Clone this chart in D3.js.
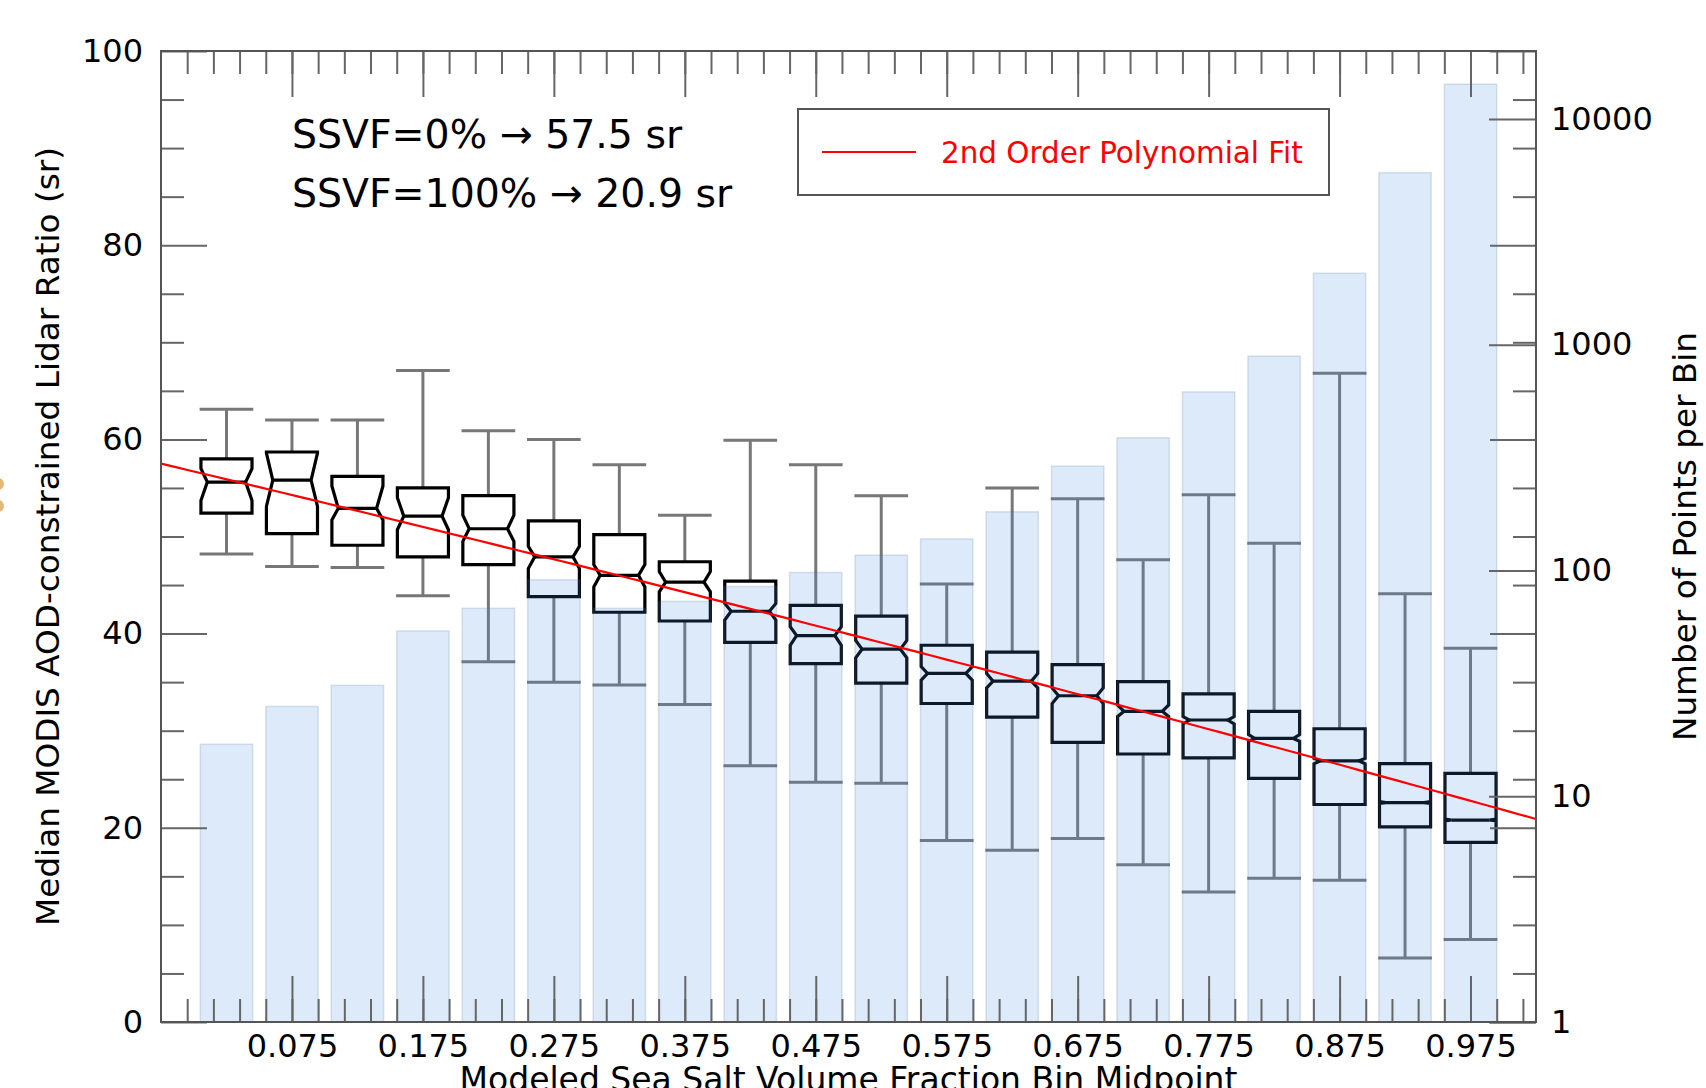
<!DOCTYPE html>
<html><head><meta charset="utf-8">
<script src="https://cdn.jsdelivr.net/npm/d3@7/dist/d3.min.js"></script>
<style>body{margin:0;background:#fff;overflow:hidden} svg{display:block}</style>
</head><body>
<svg id="chart" width="1706" height="1088"></svg>
<script>
// ---------- data ----------
const binMidpoints = [0.025,0.075,0.125,0.175,0.225,0.275,0.325,0.375,0.425,0.475,0.525,0.575,0.625,0.675,0.725,0.775,0.825,0.875,0.925,0.975];
const xTickValues = [0.075,0.175,0.275,0.375,0.475,0.575,0.675,0.775,0.875,0.975];
const xTickLabels = ["0.075","0.175","0.275","0.375","0.475","0.575","0.675","0.775","0.875","0.975"];
const countsPerBin = [17,25,31,54,68,91,68,73,85,98,117,138,182,290,387,618,891,2075,5780,14260];
const whiskerLo = [48.2,46.9,46.8,43.9,37.1,35.0,34.7,32.7,26.4,24.7,24.6,18.7,17.7,18.9,16.2,13.4,14.8,14.6,6.6,8.5];
const q1        = [52.4,50.3,49.1,47.9,47.1,43.8,42.2,41.3,39.1,36.9,34.9,32.8,31.4,28.8,27.6,27.2,25.1,22.4,20.1,18.5];
const notchLo   = [53.7,53.1,51.7,50.7,49.5,46.7,44.8,44.3,41.4,38.8,37.5,35.2,34.4,32.8,31.45,30.7,28.9,26.6,22.5,20.7];
const medians   = [55.6,55.8,52.9,52.1,50.8,47.9,46.0,45.3,42.3,39.8,38.4,35.9,35.1,33.6,32.0,31.1,29.2,26.9,22.6,20.8];
const notchHi   = [57.0,58.6,55.2,54.0,52.2,49.0,47.1,46.4,43.1,40.7,39.3,36.6,35.9,34.4,32.65,31.45,29.6,27.15,22.7,20.9];
const q3        = [58.0,58.7,56.2,55.0,54.2,51.6,50.2,47.4,45.4,42.9,41.8,38.8,38.1,36.8,35.05,33.8,32.0,30.2,26.6,25.6];
const whiskerHi = [63.1,62.0,62.0,67.1,60.9,60.0,57.4,52.2,59.9,57.4,54.2,45.1,55.0,53.9,47.6,54.3,49.3,66.8,44.1,38.5];
const fitCoefficients = [57.5, -33.6, -3.0]; // in normalized SSVF (0..1 across the axis)
const leftTickValues = [0,20,40,60,80,100];
const rightTickValues = [1,10,100,1000,10000];
const annotationLines = ["SSVF=0% \u2192 57.5 sr", "SSVF=100% \u2192 20.9 sr"];
const legendLabel = "2nd Order Polynomial Fit";
const yTitle = "Median MODIS AOD-constrained Lidar Ratio (sr)";
const y2Title = "Number of Points per Bin";
const xTitle = "Modeled Sea Salt Volume Fraction Bin Midpoint";

// ---------- layout ----------
const L = 161, R = 1536, T = 51, B = 1022;
const FONT = "DejaVu Sans, Liberation Sans, sans-serif";
const svg = d3.select("#chart");

const x = d3.scaleLinear().domain([-0.025, 1.025]).range([L, R]);
const y = d3.scaleLinear().domain([0, 100]).range([B, T]);
const yR = d3.scaleLog().domain([1, 20000]).range([B, T]);
const xFit = d3.scaleLinear().domain([0, 1]).range([L, R]);

const boxW = 0.039, capW = 0.041, barW = 0.040, indent = 0.125;

// stray orange mark at left edge
svg.append("g").selectAll("circle").data([484, 506]).join("circle")
  .attr("cx", -2).attr("cy", d => d).attr("r", 6).attr("fill", "#e5b77a");

// ---------- boxes & whiskers ----------
const gBox = svg.append("g");
binMidpoints.forEach((m, i) => {
  const cx = x(m);
  const hw = (x(boxW) - x(0)) / 2;
  const cw = (x(capW) - x(0)) / 2;
  const ind = hw * 2 * indent;
  const wk = gBox.append("g").attr("stroke", "#777").attr("stroke-width", 3).attr("fill", "none");
  wk.append("line").attr("x1", cx).attr("x2", cx).attr("y1", y(q3[i])).attr("y2", y(whiskerHi[i]));
  wk.append("line").attr("x1", cx).attr("x2", cx).attr("y1", y(q1[i])).attr("y2", y(whiskerLo[i]));
  wk.append("line").attr("x1", cx - cw).attr("x2", cx + cw).attr("y1", y(whiskerHi[i])).attr("y2", y(whiskerHi[i]));
  wk.append("line").attr("x1", cx - cw).attr("x2", cx + cw).attr("y1", y(whiskerLo[i])).attr("y2", y(whiskerLo[i]));
  const l = cx - hw, r = cx + hw;
  const p = d3.path();
  p.moveTo(l, y(q1[i]));
  p.lineTo(l, y(notchLo[i]));
  p.lineTo(l + ind, y(medians[i]));
  p.lineTo(l, y(notchHi[i]));
  p.lineTo(l, y(q3[i]));
  p.lineTo(r, y(q3[i]));
  p.lineTo(r, y(notchHi[i]));
  p.lineTo(r - ind, y(medians[i]));
  p.lineTo(r, y(notchLo[i]));
  p.lineTo(r, y(q1[i]));
  p.closePath();
  gBox.append("path").attr("d", p.toString()).attr("fill", "#fff")
    .attr("stroke", "#000").attr("stroke-width", 3.2).attr("stroke-linejoin", "miter");
  gBox.append("line").attr("x1", l + ind).attr("x2", r - ind)
    .attr("y1", y(medians[i])).attr("y2", y(medians[i]))
    .attr("stroke", "#000").attr("stroke-width", 3.2);
});

// ---------- count bars (log right axis), translucent on top ----------
svg.append("g").selectAll("rect").data(binMidpoints).join("rect")
  .attr("x", d => x(d - barW / 2))
  .attr("width", x(barW) - x(0))
  .attr("y", (d, i) => yR(countsPerBin[i]))
  .attr("height", (d, i) => B - yR(countsPerBin[i]))
  .attr("fill", "rgba(60,140,230,0.18)")
  .attr("stroke", "rgba(80,110,140,0.18)")
  .attr("stroke-width", 1.5);

// ---------- fit line ----------
const fitPts = d3.range(0, 1.0001, 0.01).map(t => [t, fitCoefficients[0] + fitCoefficients[1] * t + fitCoefficients[2] * t * t]);
svg.append("path").datum(fitPts)
  .attr("d", d3.line().x(d => xFit(d[0])).y(d => y(d[1])))
  .attr("fill", "none").attr("stroke", "#ff0000").attr("stroke-width", 2.2);

// ---------- axes ----------
function styleAxis(g) {
  g.select(".domain").remove();
  g.selectAll(".tick line").attr("stroke", "#666").attr("stroke-width", 2);
  g.selectAll(".tick text").attr("fill", "#000").style("font-family", FONT).style("font-size", "32px");
}
const leftMinor = d3.range(0, 21).map(i => i * 5).filter(v => v % 20 !== 0);
const xMinor = d3.range(0, 52).map(i => -0.005 + 0.02 * i);

svg.append("g").attr("transform", `translate(${L},0)`)
  .call(d3.axisLeft(y).tickValues(leftMinor).tickSize(-23).tickFormat("")).call(styleAxis);
svg.append("g").attr("transform", `translate(${L},0)`)
  .call(d3.axisLeft(y).tickValues(leftTickValues).tickSize(-46).tickPadding(18).tickFormat(d3.format("d"))).call(styleAxis);

svg.append("g").attr("transform", `translate(${R},0)`)
  .call(d3.axisRight(y).tickValues(leftMinor).tickSize(-23).tickFormat("")).call(styleAxis);
svg.append("g").attr("transform", `translate(${R},0)`)
  .call(d3.axisRight(y).tickValues(leftTickValues).tickSize(-46).tickFormat("")).call(styleAxis);
svg.append("g").attr("transform", `translate(${R},0)`)
  .call(d3.axisRight(yR).tickValues(rightTickValues).tickSize(-47).tickPadding(15).tickFormat(d => String(d))).call(styleAxis);

svg.append("g").attr("transform", `translate(0,${B})`)
  .call(d3.axisBottom(x).tickValues(xMinor).tickSize(-23).tickFormat("")).call(styleAxis);
svg.append("g").attr("transform", `translate(0,${B})`)
  .call(d3.axisBottom(x).tickValues(xTickValues).tickSize(-46).tickPadding(12).tickFormat((d, i) => xTickLabels[i])).call(styleAxis);
svg.append("g").attr("transform", `translate(0,${T})`)
  .call(d3.axisTop(x).tickValues(xMinor).tickSize(-23).tickFormat("")).call(styleAxis);
svg.append("g").attr("transform", `translate(0,${T})`)
  .call(d3.axisTop(x).tickValues(xTickValues).tickSize(-46).tickFormat("")).call(styleAxis);

// spines
svg.append("rect").attr("x", L).attr("y", T).attr("width", R - L).attr("height", B - T)
  .attr("fill", "none").attr("stroke", "#555").attr("stroke-width", 2);

// ---------- titles ----------
svg.append("text").attr("transform", `translate(59,${(T + B) / 2}) rotate(-90)`)
  .attr("text-anchor", "middle").style("font-family", FONT).style("font-size", "32.7px").attr("fill", "#000").text(yTitle);
svg.append("text").attr("transform", `translate(1696,${(T + B) / 2}) rotate(-90)`)
  .attr("text-anchor", "middle").style("font-family", FONT).style("font-size", "32.7px").attr("fill", "#000").text(y2Title);
svg.append("text").attr("x", (L + R) / 2).attr("y", 1091)
  .attr("text-anchor", "middle").style("font-family", FONT).style("font-size", "33px").attr("fill", "#000").text(xTitle);

// ---------- annotation ----------
svg.append("g").selectAll("text").data(annotationLines).join("text")
  .attr("x", 292).attr("y", (d, i) => 148 + i * 59)
  .style("font-family", FONT).style("font-size", "39.4px").attr("fill", "#000").text(d => d);

// ---------- legend ----------
const lg = svg.append("g");
lg.append("rect").attr("x", 798).attr("y", 109).attr("width", 531).attr("height", 86)
  .attr("fill", "#fff").attr("stroke", "#555").attr("stroke-width", 2);
lg.append("line").attr("x1", 822).attr("x2", 916).attr("y1", 152).attr("y2", 152)
  .attr("stroke", "#ff0000").attr("stroke-width", 2.2);
lg.append("text").attr("x", 941).attr("y", 163)
  .style("font-family", FONT).style("font-size", "29.4px").attr("fill", "#ff0000").text(legendLabel);
</script>
</body></html>
